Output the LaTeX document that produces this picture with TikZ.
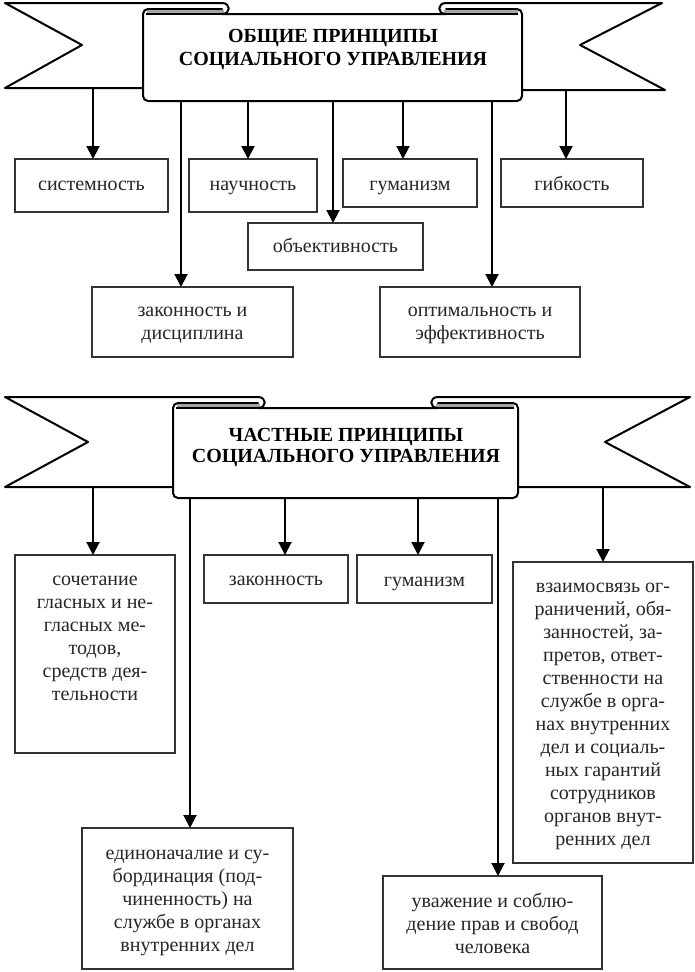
\documentclass[tikz,border=0pt]{standalone}
\usepackage{fontspec}
\setmainfont{Liberation Serif}
\usetikzlibrary{arrows.meta}
\newcommand{\tb}[4]{\parbox[t][#1][t]{#2}{\centering\rule{0pt}{#3}#4\par}}
\tikzset{
  ban/.style={line width=2pt, line join=round, line cap=round},
  box/.style={draw=black!80, line width=1.1pt, fill=white, inner sep=0pt, outer sep=0pt, anchor=north west, text=black!85, font=\fontsize{20pt}{23pt}\selectfont},
  arr/.style={line width=2pt, -{Triangle[width=13pt,length=13pt]}},
  ttl/.style={font=\fontsize{20pt}{23pt}\selectfont\bfseries, align=center, inner sep=0pt}
}
\begin{document}
\begin{tikzpicture}[x=1pt,y=-1pt]
\useasboundingbox (0,0) rectangle (695,972);
% ---------- top banner ----------
\draw[ban, fill=white, rounded corners=5pt] (222,9) -- (143,9) -- (143,101) -- (522,101) -- (522,9) -- (446,9);
\fill[black!35] (147,10) rectangle (224,13.5);
\fill[black!35] (444,10) rectangle (518,13.5);
\draw[ban] (143,88) -- (5,88) -- (82,45) -- (5,3) -- (222,3) .. controls (231,3) and (231,14) .. (222,14) -- (446,14) .. controls (437,14) and (437,3) .. (446,3) -- (662,3) -- (580,45) -- (665,90) -- (522,90);
\draw[line width=1.5pt] (146,14) -- (518,14);
\node[ttl] (t1) at (333,49.5) {ОБЩИЕ ПРИНЦИПЫ\\СОЦИАЛЬНОГО УПРАВЛЕНИЯ};
% ---------- bottom banner ----------
\draw[ban, fill=white, rounded corners=5pt] (258,403) -- (173,403) -- (173,498) -- (518,498) -- (518,403) -- (438,403);
\fill[black!35] (177,404) rectangle (260,407.5);
\fill[black!35] (436,404) rectangle (514,407.5);
\draw[ban] (173,487) -- (5,487) -- (88,442) -- (5,397) -- (258,397) .. controls (267,397) and (267,408) .. (258,408) -- (438,408) .. controls (429,408) and (429,397) .. (438,397) -- (690,397) -- (605,442) -- (690,487) -- (518,487);
\draw[line width=1.5pt] (176,408) -- (514,408);
\node[ttl, font=\fontsize{20pt}{21pt}\selectfont\bfseries] (t2) at (346,448) {ЧАСТНЫЕ ПРИНЦИПЫ\\СОЦИАЛЬНОГО УПРАВЛЕНИЯ};
% ---------- top boxes ----------
\node[box] (sys) at (15,159) {\tb{53pt}{153pt}{31pt}{системность}};
\node[box] (nau) at (189,159) {\tb{53pt}{128pt}{31pt}{научность}};
\node[box] (gum) at (343,159) {\tb{48pt}{134pt}{31pt}{гуманизм}};
\node[box] (gib) at (501,159) {\tb{48pt}{142pt}{31pt}{гибкость}};
\node[box] (obj) at (248,223) {\tb{47pt}{175pt}{29pt}{объективность}};
\node[box] (zak) at (92,287) {\tb{70pt}{201pt}{29pt}{законность и\\дисциплина}};
\node[box] (opt) at (380,287) {\tb{70pt}{200pt}{29pt}{оптимальность и\\эффективность}};
% ---------- bottom boxes ----------
\node[box, line width=2.2pt] (soch) at (15,555) {\tb{198pt}{160pt}{30pt}{сочетание\\гласных и не-\\гласных ме-\\тодов,\\средств дея-\\тельности}};
\node[box] (zak2) at (204,555) {\tb{48pt}{144pt}{30pt}{законность}};
\node[box] (gum2) at (357,555) {\tb{48pt}{135pt}{31pt}{гуманизм}};
\node[box] (vz) at (513,562) {\tb{301pt}{180pt}{30pt}{взаимосвязь ог-\\раничений, обя-\\занностей, за-\\претов, ответ-\\ственности на\\службе в орга-\\нах внутренних\\дел и социаль-\\ных гарантий\\сотрудников\\органов внут-\\ренних дел}};
\node[box] (edin) at (82,828) {\tb{141pt}{211pt}{31pt}{единоначалие и су-\\бординация (под-\\чиненность) на\\службе в органах\\внутренних дел}};
\node[box] (uv) at (383,876) {\tb{93pt}{219pt}{31pt}{уважение и соблю-\\дение прав и свобод\\человека}};
% ---------- arrow start points ----------
\coordinate (a1) at (93,88);
\coordinate (a2) at (248,101);
\coordinate (a3) at (181,101);
\coordinate (a4) at (333,101);
\coordinate (a5) at (403,101);
\coordinate (a6) at (566,90);
\coordinate (a7) at (492,101);
\coordinate (b1) at (93,487);
\coordinate (b2) at (190,498);
\coordinate (b3) at (285,498);
\coordinate (b4) at (418,498);
\coordinate (b5) at (498,498);
\coordinate (b6) at (603,487);
% ---------- arrows ----------
\draw[arr] (a1) -- (a1 |- sys.north);
\draw[arr] (a2) -- (a2 |- nau.north);
\draw[arr] (a3) -- (a3 |- zak.north);
\draw[arr] (a4) -- (a4 |- obj.north);
\draw[arr] (a5) -- (a5 |- gum.north);
\draw[arr] (a6) -- (a6 |- gib.north);
\draw[arr] (a7) -- (a7 |- opt.north);
\draw[arr] (b1) -- (b1 |- soch.north);
\draw[arr] (b2) -- (b2 |- edin.north);
\draw[arr] (b3) -- (b3 |- zak2.north);
\draw[arr] (b4) -- (b4 |- gum2.north);
\draw[arr] (b5) -- (b5 |- uv.north);
\draw[arr] (b6) -- (b6 |- vz.north);
\end{tikzpicture}
\end{document}
